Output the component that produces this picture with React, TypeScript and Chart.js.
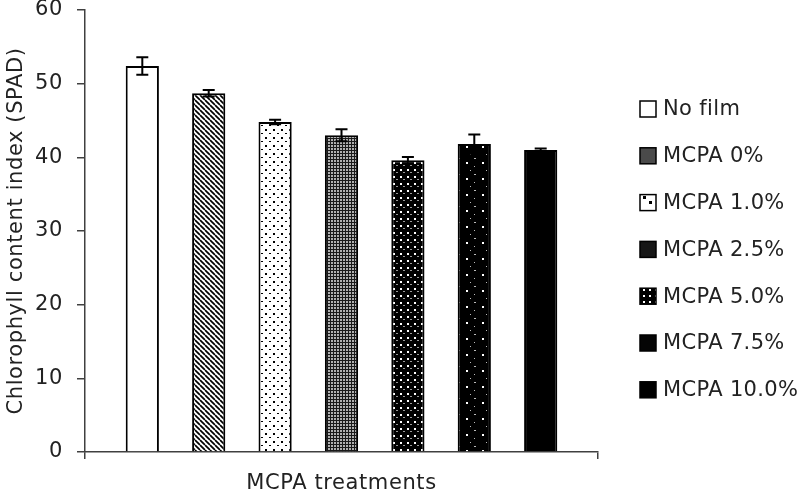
import React, { useEffect, useRef } from "react";
import { Chart, registerables } from "chart.js";

Chart.register(...registerables);

const categories = ["MCPA treatments"];
const seriesNames = ["No film", "MCPA 0%", "MCPA 1.0%", "MCPA 2.5%", "MCPA 5.0%", "MCPA 7.5%", "MCPA 10.0%"];
const meanValues = [52.4, 48.7, 44.8, 43.0, 39.6, 41.8, 41.0];
const errorValues = [1.2, 0.45, 0.3, 0.8, 0.45, 1.3, 0.2];
const yTicks = [0, 10, 20, 30, 40, 50, 60];

const FONT = "'DejaVu Sans', sans-serif";
const FONT_SIZE = 21;
const SPACING = "0.6px";
const LEGEND_SPACING = "0.35px";

function tile(size: number, draw: (c: CanvasRenderingContext2D) => void): CanvasPattern | string {
  const cv = document.createElement("canvas");
  cv.width = size;
  cv.height = size;
  const c = cv.getContext("2d");
  if (!c) return "#000";
  draw(c);
  const p = c.createPattern(cv, "repeat");
  return p || "#000";
}

function makeBarFills() {
  const white = "#ffffff";
  const hatch = tile(5, (c) => {
    c.fillStyle = "#fff";
    c.fillRect(0, 0, 5, 5);
    c.strokeStyle = "#000";
    c.lineWidth = 1.7;
    for (let k = -1; k <= 1; k++) {
      c.beginPath();
      c.moveTo(k * 5, 0);
      c.lineTo(k * 5 + 5, 5);
      c.stroke();
    }
  });
  const sparseDots = tile(8, (c) => {
    c.fillStyle = "#fff";
    c.fillRect(0, 0, 8, 8);
    c.fillStyle = "#000";
    c.fillRect(1, 1, 2, 2);
    c.fillRect(5, 5, 2, 1);
  });
  const mesh = tile(3, (c) => {
    c.fillStyle = "#1a1a1a";
    c.fillRect(0, 0, 3, 3);
    c.fillStyle = "#b0b0b0";
    c.fillRect(1, 1, 2, 2);
  });
  const darkDots = tile(7, (c) => {
    c.fillStyle = "#000";
    c.fillRect(0, 0, 7, 7);
    c.fillStyle = "#fff";
    c.fillRect(1, 1, 2, 2);
    c.fillStyle = "#999";
    c.fillRect(4, 4, 2, 1);
  });
  const darkSparse = tile(16, (c) => {
    c.fillStyle = "#000";
    c.fillRect(0, 0, 16, 16);
    c.fillStyle = "#fff";
    c.fillRect(2, 2, 2, 2);
    c.fillStyle = "#bbb";
    c.fillRect(10, 6, 1, 1);
    c.fillRect(6, 10, 1, 1);
    c.fillRect(10, 14, 2, 1);
  });
  const black = "#000000";
  return [white, hatch, sparseDots, mesh, darkDots, darkSparse, black];
}

function makeLegendFills() {
  const oneDot = tile(16, (c) => {
    c.fillStyle = "#fff";
    c.fillRect(0, 0, 16, 16);
    c.fillStyle = "#000";
    c.fillRect(3, 4, 3, 3);
    c.fillRect(9, 9, 3, 3);
  });
  const whiteDots = tile(6, (c) => {
    c.fillStyle = "#000";
    c.fillRect(0, 0, 6, 6);
    c.fillStyle = "#fff";
    c.fillRect(1, 1, 2, 2);
  });
  return ["#ffffff", "#4a4a4a", oneDot, "#161616", whiteDots, "#050505", "#000000"];
}

const spacingPlugin = {
  id: "letterSpacing",
  beforeUpdate(chart: any) {
    chart.ctx.letterSpacing = SPACING;
  },
  beforeDraw(chart: any) {
    chart.ctx.letterSpacing = SPACING;
  },
};

const errorBarPlugin = {
  id: "errorBars",
  afterDatasetsDraw(chart: any) {
    const ctx = chart.ctx;
    const yScale = chart.scales.y;
    ctx.save();
    ctx.strokeStyle = "#000";
    ctx.lineWidth = 2;
    chart.data.datasets.forEach((ds: any, i: number) => {
      const meta = chart.getDatasetMeta(i);
      meta.data.forEach((bar: any, j: number) => {
        const v = ds.data[j];
        const e = errorValues[i];
        const x = bar.x;
        const yt = yScale.getPixelForValue(v + e);
        const yb = yScale.getPixelForValue(v - e);
        const cap = 6;
        ctx.beginPath();
        ctx.moveTo(x, yt);
        ctx.lineTo(x, yb);
        ctx.moveTo(x - cap, yt);
        ctx.lineTo(x + cap, yt);
        ctx.moveTo(x - cap, yb);
        ctx.lineTo(x + cap, yb);
        ctx.stroke();
      });
    });
    ctx.restore();
  },
};

const sideLegendPlugin = {
  id: "sideLegend",
  afterDraw(chart: any) {
    const ctx = chart.ctx;
    const fills: any[] = chart.$legendFills || [];
    ctx.save();
    ctx.letterSpacing = LEGEND_SPACING;
    ctx.font = `${FONT_SIZE}px ${FONT}`;
    ctx.textBaseline = "middle";
    ctx.textAlign = "left";
    const boxX = chart.chartArea.right + 42;
    const rowTop = 109;
    const rowStep = 46.8;
    seriesNames.forEach((name, i) => {
      const cy = rowTop + rowStep * i;
      ctx.fillStyle = fills[i] || "#000";
      ctx.fillRect(boxX, cy - 8, 16, 16);
      ctx.strokeStyle = "#000";
      ctx.lineWidth = 1.5;
      ctx.strokeRect(boxX, cy - 8, 16, 16);
      ctx.fillStyle = "#222";
      ctx.fillText(name, boxX + 23, cy + 1);
    });
    ctx.restore();
  },
};

export default function App() {
  const ref = useRef<HTMLCanvasElement>(null);
  useEffect(() => {
    if (!ref.current) return;
    const barFills = makeBarFills();
    const legendFills = makeLegendFills();
    const chart: any = new Chart(ref.current, {
      type: "bar",
      data: {
        labels: categories,
        datasets: seriesNames.map((name, i) => ({
          label: name,
          data: [meanValues[i]],
          backgroundColor: barFills[i] as any,
          borderColor: "#000",
          borderWidth: 2,
          categoryPercentage: 0.906,
          barPercentage: 0.5,
        })),
      },
      plugins: [spacingPlugin, errorBarPlugin, sideLegendPlugin],
      options: {
        animation: false,
        responsive: true,
        maintainAspectRatio: false,
        layout: { padding: { top: 10, left: 0, right: 200, bottom: 0 } },
        plugins: {
          tooltip: { enabled: false },
          legend: { display: false },
        },
        scales: {
          x: {
            grid: {
              display: true,
              drawOnChartArea: false,
              drawTicks: true,
              tickLength: 7,
              color: "#404040",
              lineWidth: 1.5,
            },
            border: { display: true, color: "#404040", width: 1.5 },
            ticks: { display: false },
            title: {
              display: true,
              text: "MCPA treatments",
              color: "#222",
              font: { family: FONT, size: FONT_SIZE, lineHeight: 1.0 },
              padding: { top: 14, bottom: 0 },
            },
            afterFit: (s: any) => {
              s.height = 42;
            },
          },
          y: {
            min: 0,
            max: 60,
            afterBuildTicks: (axis: any) => {
              axis.ticks = yTicks.map((v) => ({ value: v }));
            },
            grid: {
              display: true,
              drawOnChartArea: false,
              drawTicks: true,
              tickLength: 8,
              color: "#404040",
              lineWidth: 1.5,
            },
            border: { display: true, color: "#404040", width: 1.5 },
            ticks: {
              color: "#222",
              font: { family: FONT, size: FONT_SIZE },
              padding: 14,
            },
            title: {
              display: true,
              text: "Chlorophyll content index (SPAD)",
              color: "#222",
              font: { family: FONT, size: FONT_SIZE },
              padding: { top: 4, bottom: 7 },
            },
            afterFit: (s: any) => {
              s.width = 85;
              s.paddingTop = 0;
              s.paddingBottom = 0;
            },
          },
        },
      },
    });
    chart.$legendFills = legendFills;
    chart.draw();
    return () => chart.destroy();
  }, []);
  return (
    <div style={{ position: "fixed", left: 0, top: 0, width: 798, height: 494, background: "#fff" }}>
      <canvas ref={ref} />
    </div>
  );
}
